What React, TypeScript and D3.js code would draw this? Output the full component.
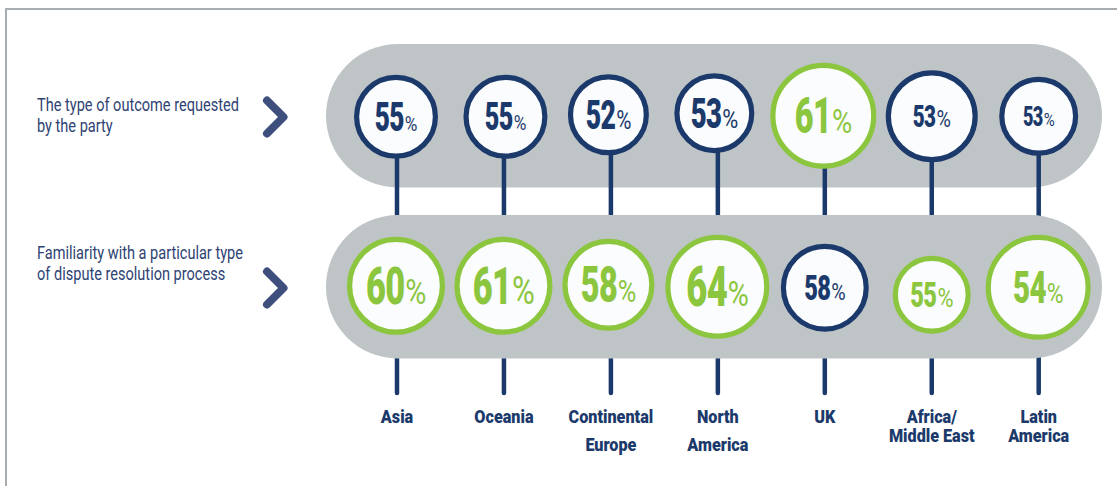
import React from "react";
import * as d3 from "d3";

// ---------- data ----------
const categories = ["Asia", "Oceania", "Continental Europe", "North America", "UK", "Africa/ Middle East", "Latin America"];
const categoryLines = [["Asia"], ["Oceania"], ["Continental", "Europe"], ["North", "America"], ["UK"], ["Africa/", "Middle East"], ["Latin", "America"]];
const outcomeValues = [55, 55, 52, 53, 61, 53, 53];
const familiarityValues = [60, 61, 58, 64, 58, 55, 54];
const outcomeLabel = ["The type of outcome requested", "by the party"];
const familiarityLabel = ["Familiarity with a particular type", "of dispute resolution process"];

// ---------- layout / style ----------
const W = 1117;
const H = 486;
const NAVY = "#1b3a6b";
const GREEN = "#8cc63f";
const CAPSULE = "#bfc4c7";
const FILL = "#fbfcfe";
const LABEL = "#2e4373";
const CHEVRON = "#3e4f7e";
const BORDER = "#a8adb1";

const topOuterR = [42, 42, 40.5, 40, 53, 46, 39.5];
const botOuterR = [49, 49, 46, 52, 44, 39, 52.5];
const topDx = [-1, 1.5, -2.5, -3.5, -1.5, 0, 0];
const botDx = [-1, -0.5, -2.5, -0.5, 0, 0, -0.5];
const topDy = [1, 1, -1, -2.5, 0, 0.5, 0.5];
const botDy = [-1, -1, -2, 0, 1, 8, 0.5];
const topNumFs = [37.5, 36, 38, 39.4, 46.4, 29.5, 25.8];
const topPctFs = [21, 21, 25.3, 26.7, 33.8, 24, 18.3];
const botNumFs = [49.2, 49.2, 46.4, 52, 33.8, 33.8, 42.2];
const botPctFs = [35.2, 38, 31, 35.2, 24, 26.7, 28.1];
const labelLineGap = [0, 0, 28.5, 28.5, 0, 19.6, 19.6];

const STROKE = 5.2;
const NUM_K = 1.06; // size boost for the heavy digits
const SX_NUM = 0.66;
const SX_PCT = 0.82;
const FONT = "Roboto, 'Open Sans', sans-serif";

function Bubble({ cx, cy, r, value, color, numFs, pctFs }) {
  const digits = String(value);
  const fs = numFs * NUM_K;
  const digitW = digits.length * 0.5615 * fs * SX_NUM;
  const pctW = 0.716 * pctFs * SX_PCT;
  const gap = 0.6;
  const total = digitW + gap + pctW;
  const left = cx - total / 2;
  const baseline = cy + (0.711 * numFs) / 2 + 0.5;
  return (
    <g>
      <circle cx={cx} cy={cy} r={r - STROKE / 2} fill={FILL} stroke={color} strokeWidth={STROKE} />
      <text
        transform={`translate(${left},${baseline}) scale(${SX_NUM},1)`}
        fontFamily={FONT}
        fontWeight={900}
        fontSize={fs}
        fill={color}
        letterSpacing={-1}
      >
        {digits}
      </text>
      <text
        transform={`translate(${left + digitW + gap},${baseline}) scale(${SX_PCT},1)`}
        fontFamily={FONT}
        fontWeight={400}
        fontSize={pctFs}
        fill={color}
      >
        %
      </text>
    </g>
  );
}

export default function App() {
  const x = d3.scalePoint<string>().domain(categories).range([397, 1038.7]);

  const capX0 = 326;
  const capX1 = 1102;
  const topCap = { y0: 44, y1: 187.5 };
  const botCap = { y0: 215, y1: 358.5 };
  const topCy = (topCap.y0 + topCap.y1) / 2;
  const botCy = (botCap.y0 + botCap.y1) / 2;
  const stemEnd = 393;

  const rowText = (lines, y0) =>
    lines.map((ln, i) => (
      <text
        key={i}
        transform={`translate(37,${y0 + i * 21.5}) scale(0.8,1)`}
        fontFamily={FONT}
        fontSize={18.2}
        fill={LABEL}
      >
        {ln}
      </text>
    ));

  const chevron = (cy) => {
    const line = d3.line();
    return (
      <path
        d={line([[267, cy - 16.5], [283.5, cy], [267, cy + 16.5]]) || ""}
        fill="none"
        stroke={CHEVRON}
        strokeWidth={8}
        strokeLinecap="round"
        strokeLinejoin="round"
      />
    );
  };

  return (
    <svg width={W} height={H} style={{ position: "absolute", left: 0, top: 0, background: "#fff" }}>
      <rect x={0} y={0} width={W} height={H} fill="#fff" />
      {/* frame */}
      <path d={`M6,${H} L6,9 L${W},9`} fill="none" stroke={BORDER} strokeWidth={2} />

      {/* row labels */}
      {rowText(outcomeLabel, 110.7)}
      {rowText(familiarityLabel, 258.8)}
      {chevron(117)}
      {chevron(288)}

      {/* top capsule */}
      <rect
        x={capX0}
        y={topCap.y0}
        width={capX1 - capX0}
        height={topCap.y1 - topCap.y0}
        rx={(topCap.y1 - topCap.y0) / 2}
        fill={CAPSULE}
      />

      {/* stems */}
      {categories.map((c) => (
        <line
          key={c}
          x1={x(c)}
          x2={x(c)}
          y1={topCy}
          y2={stemEnd}
          stroke={NAVY}
          strokeWidth={4.5}
          strokeLinecap="round"
        />
      ))}

      {/* bottom capsule */}
      <rect
        x={capX0}
        y={botCap.y0}
        width={capX1 - capX0}
        height={botCap.y1 - botCap.y0}
        rx={(botCap.y1 - botCap.y0) / 2}
        fill={CAPSULE}
      />

      {/* bubbles */}
      {categories.map((c, i) => {
        const topHigher = outcomeValues[i] > familiarityValues[i];
        return (
          <g key={c}>
            <Bubble
              cx={(x(c) || 0) + topDx[i]}
              cy={topCy + topDy[i]}
              r={topOuterR[i]}
              value={outcomeValues[i]}
              color={topHigher ? GREEN : NAVY}
              numFs={topNumFs[i]}
              pctFs={topPctFs[i]}
            />
            <Bubble
              cx={(x(c) || 0) + botDx[i]}
              cy={botCy + botDy[i]}
              r={botOuterR[i]}
              value={familiarityValues[i]}
              color={topHigher ? NAVY : GREEN}
              numFs={botNumFs[i]}
              pctFs={botPctFs[i]}
            />
          </g>
        );
      })}

      {/* category labels */}
      {categories.map((c, i) =>
        categoryLines[i].map((ln, j) => (
          <text
            key={c + j}
            transform={`translate(${x(c)},${422.5 + j * labelLineGap[i]}) scale(0.9,1)`}
            textAnchor="middle"
            fontFamily={FONT}
            fontWeight={900}
            fontSize={18}
            fill={NAVY}
          >
            {ln}
          </text>
        ))
      )}
    </svg>
  );
}
